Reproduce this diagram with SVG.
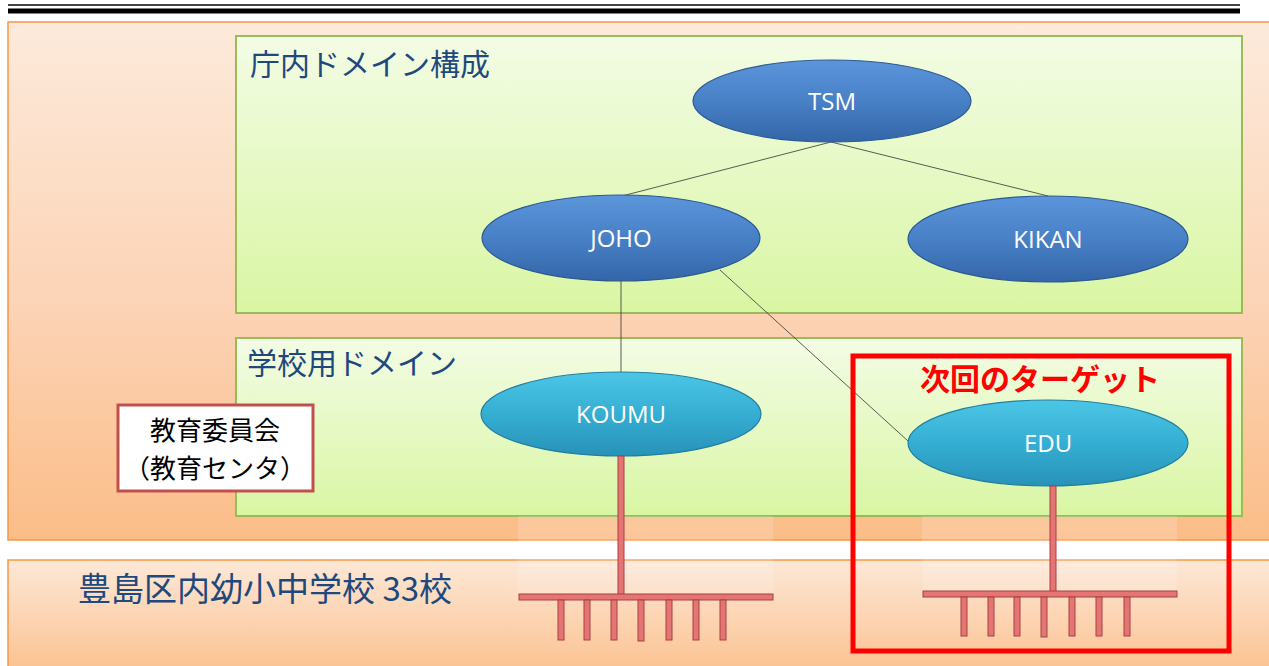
<svg xmlns="http://www.w3.org/2000/svg" width="1269" height="666" viewBox="0 0 1269 666">
<defs>
<linearGradient id="gOuter" x1="0" y1="0" x2="0" y2="1"><stop offset="0" stop-color="#fdeadb"/><stop offset="0.55" stop-color="#fcd3b5"/><stop offset="1" stop-color="#fbbd88"/></linearGradient>
<linearGradient id="gBottom" x1="0" y1="0" x2="0" y2="1"><stop offset="0" stop-color="#fde8d7"/><stop offset="1" stop-color="#fbbf8b"/></linearGradient>
<linearGradient id="gGreen" x1="0" y1="0" x2="0" y2="1"><stop offset="0" stop-color="#f3fce5"/><stop offset="1" stop-color="#d9f6a3"/></linearGradient>
<linearGradient id="gBlue" x1="0" y1="0" x2="0" y2="1"><stop offset="0" stop-color="#5b95da"/><stop offset="0.5" stop-color="#4880c6"/><stop offset="1" stop-color="#3466a8"/></linearGradient>
<linearGradient id="gCyan" x1="0" y1="0" x2="0" y2="1"><stop offset="0" stop-color="#4cc6e6"/><stop offset="0.5" stop-color="#35aed3"/><stop offset="1" stop-color="#2892b8"/></linearGradient>
<style>
.jp{font-family:"Noto Sans CJK JP","Noto Sans",sans-serif}
.title{fill:#1f497d;font-size:30px}
.node{font-family:"Open Sans","Liberation Sans",sans-serif;font-size:24px;fill:#ffffff;text-anchor:middle}
.blue{fill:url(#gBlue);stroke:#2c5a92;stroke-width:1.2}
.cyan{fill:url(#gCyan);stroke:#237e9f;stroke-width:1.2}
.pipe{fill:#e57575;stroke:#a84040;stroke-width:1}
.conn{stroke:#333333;stroke-width:0.8;fill:none}
.grn{fill:url(#gGreen);stroke:#9bbb59;stroke-width:2}
</style>
</defs>
<rect x="0" y="0" width="1269" height="666" fill="#ffffff"/>
<rect x="8" y="4" width="1232" height="2" fill="#444444"/>
<rect x="8" y="8.5" width="1232" height="5" fill="#000000"/>
<rect id="outer" x="8" y="22" width="1270" height="518" fill="url(#gOuter)" stroke="#f79646" stroke-width="1.5"/>
<rect id="schools-panel" x="8" y="560" width="1270" height="120" fill="url(#gBottom)" stroke="#f79646" stroke-width="1.5"/>
<g id="domain-internal"><rect x="236" y="36" width="1006" height="277" class="grn"/><text x="250" y="75" class="jp title">庁内ドメイン構成</text></g>
<g id="domain-school"><rect x="236" y="338" width="1006" height="178" class="grn"/><text x="247" y="374" class="jp title">学校用ドメイン</text></g>
<rect x="518" y="516" width="255" height="80" fill="#ffffff" opacity="0.15"/>
<rect x="922" y="516" width="255" height="80" fill="#ffffff" opacity="0.15"/>
<rect x="518" y="541" width="255" height="18" fill="#ffffff"/>
<rect x="922" y="541" width="255" height="18" fill="#ffffff"/>
<g id="connectors">
<line x1="831" y1="142" x2="622" y2="196" class="conn"/>
<line x1="831" y1="142" x2="1048" y2="196" class="conn"/>
<line x1="621" y1="281" x2="621" y2="372" class="conn"/>
<line x1="720" y1="270" x2="908" y2="441" class="conn"/>
</g>
<g id="TSM"><ellipse cx="832" cy="101" rx="139" ry="41" class="blue"/><text x="832" y="110" class="node">TSM</text></g>
<g id="JOHO"><ellipse cx="621" cy="238" rx="139" ry="43" class="blue"/><text x="621" y="247" class="node">JOHO</text></g>
<g id="KIKAN"><ellipse cx="1048" cy="239" rx="140" ry="43" class="blue"/><text x="1048" y="248" class="node">KIKAN</text></g>
<g id="KOUMU"><ellipse cx="621" cy="414" rx="140" ry="42" class="cyan"/><text x="621" y="423" class="node">KOUMU</text></g>
<g id="EDU"><ellipse cx="1048" cy="443" rx="140" ry="43" class="cyan"/><text x="1048" y="452" class="node">EDU</text></g>
<g id="bus-koumu">
<rect x="618" y="456" width="6" height="140" class="pipe"/>
<rect x="519" y="594" width="254" height="6" class="pipe"/>
<rect x="558" y="600" width="6" height="40" class="pipe"/>
<rect x="584" y="600" width="6" height="40" class="pipe"/>
<rect x="611" y="600" width="6" height="40" class="pipe"/>
<rect x="638" y="600" width="6" height="41" class="pipe"/>
<rect x="666" y="600" width="6" height="40" class="pipe"/>
<rect x="693" y="600" width="6" height="40" class="pipe"/>
<rect x="720" y="600" width="6" height="40" class="pipe"/>
</g>
<g id="bus-edu">
<rect x="1050" y="486" width="6" height="106" class="pipe"/>
<rect x="923" y="591" width="254" height="6" class="pipe"/>
<rect x="961" y="597" width="6" height="39" class="pipe"/>
<rect x="988" y="597" width="6" height="39" class="pipe"/>
<rect x="1014" y="597" width="6" height="39" class="pipe"/>
<rect x="1041" y="597" width="6" height="40" class="pipe"/>
<rect x="1069" y="597" width="6" height="39" class="pipe"/>
<rect x="1096" y="597" width="6" height="39" class="pipe"/>
<rect x="1124" y="597" width="6" height="39" class="pipe"/>
</g>
<g id="board">
<rect x="118" y="405" width="195" height="86" fill="#ffffff" stroke="#c0504d" stroke-width="3"/>
<text x="215" y="440" class="jp" font-size="26" fill="#000000" text-anchor="middle">教育委員会</text>
<text x="215" y="478" class="jp" font-size="26" fill="#000000" text-anchor="middle">（教育センタ）</text>
</g>
<g id="target">
<rect x="853" y="356" width="376" height="295" fill="none" stroke="#ff0000" stroke-width="5"/>
<text x="1040" y="390" class="jp" font-size="30" font-weight="bold" fill="#ff0000" text-anchor="middle">次回のターゲット</text>
</g>
<g id="schools"><text x="78" y="601" class="jp" font-size="33" fill="#1f497d">豊島区内幼小中学校 33校</text></g>
</svg>
